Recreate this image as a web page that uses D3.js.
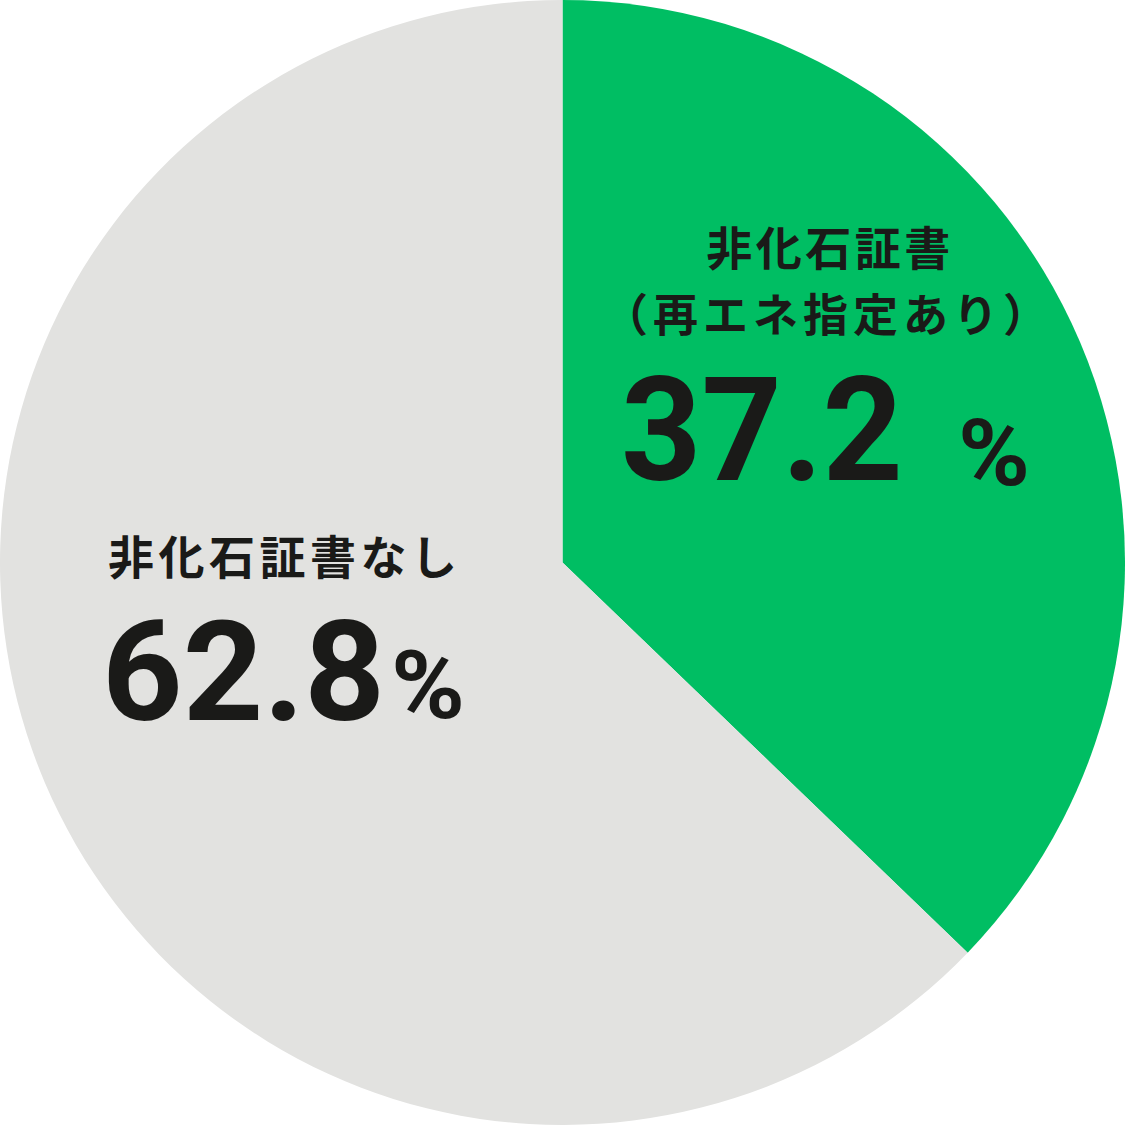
<!DOCTYPE html>
<html><head><meta charset="utf-8">
<script src="https://cdn.jsdelivr.net/npm/d3@7"></script>
<style>html,body{margin:0;padding:0;background:#fff;}svg{display:block;}</style>
</head><body>
<svg id="c" width="1125" height="1125"></svg>
<script>
const categories = ["非化石証書（再エネ指定あり）", "非化石証書なし"];
const values = [37.2, 62.8];
const colors = ["#00BE63", "#E2E2E0"];
const valueLabels = ["37.2", "62.8"];

const W = 1125, H = 1125, cx = 562.5, cy = 562.5, R = 562.5;
const svg = d3.select("#c");
const g = svg.append("g").attr("transform", `translate(${cx},${cy})`);
const pie = d3.pie().sort(null).value(d => d);
const arc = d3.arc().innerRadius(0).outerRadius(R);
g.selectAll("path").data(pie(values)).join("path")
  .attr("d", arc).attr("fill", (d,i) => colors[i]);

const font = "'Noto Sans CJK JP', 'Noto Sans', sans-serif";
const num = "Roboto, 'Noto Sans', sans-serif";
const ink = "#1a1a18";
const t = svg.append("g").attr("fill", ink).attr("font-family", font).attr("font-weight", 700);

// green slice label
t.append("text").attr("x", 830).attr("y", 265).attr("text-anchor","middle")
  .attr("font-size", 46).attr("letter-spacing", 3.5).text("非化石証書");
t.append("text").attr("x", 828).attr("y", 332).attr("text-anchor","middle")
  .attr("font-size", 45).attr("letter-spacing", 5).text("（再エネ指定あり）");
t.append("text").attr("x", 621).attr("y", 480).attr("font-family", num)
  .attr("font-size", 145).attr("textLength", 282).attr("lengthAdjust","spacingAndGlyphs")
  .text(valueLabels[0]);
t.append("text").attr("x", 958).attr("y", 485).attr("font-family", num)
  .attr("font-size", 92).attr("textLength", 72).attr("lengthAdjust","spacingAndGlyphs").text("%");

// gray slice label
t.append("text").attr("x", 108).attr("y", 574)
  .attr("font-size", 46).attr("letter-spacing", 4.5).text("非化石証書なし");
t.append("text").attr("x", 102).attr("y", 720).attr("font-family", num)
  .attr("font-size", 140).attr("textLength", 283).attr("lengthAdjust","spacingAndGlyphs")
  .text(valueLabels[1]);
t.append("text").attr("x", 391).attr("y", 718).attr("font-family", num)
  .attr("font-size", 95).attr("textLength", 74).attr("lengthAdjust","spacingAndGlyphs").text("%");
</script>
</body></html>
